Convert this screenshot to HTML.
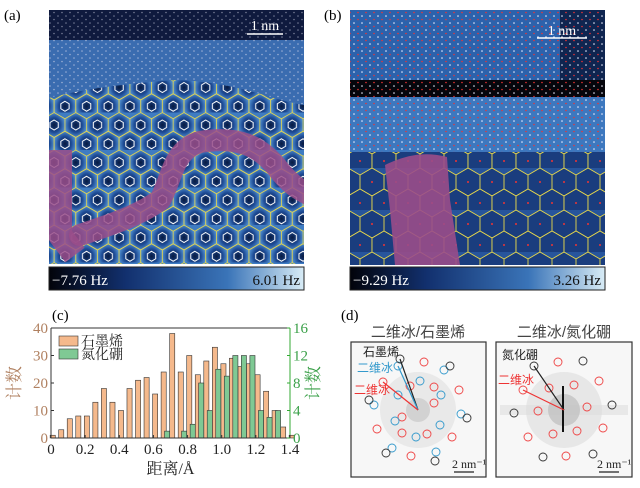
<!DOCTYPE html>
<html><head><meta charset="utf-8"><style>
body{margin:0;background:#fff;font-family:"Liberation Serif","Noto Serif CJK SC",serif}
svg{display:block}
</style></head><body>
<svg width="640" height="488" viewBox="0 0 640 488" xmlns="http://www.w3.org/2000/svg">
<defs>
<linearGradient id="cb" x1="0" x2="1"><stop offset="0" stop-color="#02030a"/><stop offset="0.3" stop-color="#12306e"/><stop offset="0.7" stop-color="#3a74b8"/><stop offset="1" stop-color="#d8ecf6"/></linearGradient>
<radialGradient id="hc"><stop offset="0" stop-color="#081a40"/><stop offset="0.6" stop-color="#1e4c96"/><stop offset="1" stop-color="#4f8ccc"/></radialGradient>
<pattern id="hexA" width="21.65" height="37.5" patternUnits="userSpaceOnUse">
<rect width="21.65" height="37.5" fill="#3f7cc2"/>
<g id="hx"><polygon points="10.83,0 21.65,6.25 21.65,18.75 10.83,25 0,18.75 0,6.25" fill="url(#hc)" stroke="#e8d84a" stroke-width="0.8"/><polygon points="10.83,7.5 15,10 15,15 10.83,17.5 6.7,15 6.7,10" fill="none" stroke="#fff" stroke-width="1"/></g>
<use href="#hx" x="-10.83" y="18.75"/><use href="#hx" x="10.83" y="18.75"/><use href="#hx" y="-37.5"/>
</pattern>
<pattern id="dots" width="8" height="7" patternUnits="userSpaceOnUse"><circle cx="2" cy="2" r="0.8" fill="#dde"/><circle cx="6" cy="5.5" r="0.8" fill="#dde"/></pattern>
<pattern id="dotsR" width="8" height="7" patternUnits="userSpaceOnUse"><circle cx="2" cy="2" r="0.8" fill="#eef"/><circle cx="6" cy="5.5" r="0.8" fill="#e33"/></pattern>
<pattern id="hexB" width="24" height="42" patternUnits="userSpaceOnUse">
<rect width="24" height="42" fill="#27559c"/>
<g id="hy"><polygon points="12,0 24,7 24,21 12,28 0,21 0,7" fill="#1a3d7e" stroke="#e8d84a" stroke-width="0.9"/><circle cx="12" cy="14" r="1" fill="#e33"/></g>
<use href="#hy" x="-12" y="21"/><use href="#hy" x="12" y="21"/><use href="#hy" y="-42"/>
</pattern>
<clipPath id="clipA"><rect x="49" y="10" width="255" height="254"/></clipPath>
</defs>

<!-- panel a -->
<text x="4" y="20" font-size="15">(a)</text>
<g clip-path="url(#clipA)">
<rect x="49" y="10" width="255" height="254" fill="url(#hexA)"/>
<rect x="49" y="10" width="255" height="30" fill="#0f1a3e"/>
<rect x="49" y="10" width="255" height="30" fill="url(#dots)" opacity="0.5"/>
<path d="M49,40 H304 V105 C270,100 240,82 175,80 C120,84 80,90 49,98 Z" fill="#3a6cb0"/>
<path d="M49,40 H304 V105 C270,100 240,82 175,80 C120,84 80,90 49,98 Z" fill="url(#dots)" opacity="0.6"/>
<path d="M60,150 L60,235 L75,255" fill="none" stroke="#9a4d8a" stroke-width="24" stroke-opacity="0.85" stroke-linejoin="round"/>
<path d="M80,235 C110,225 140,215 160,200 C172,180 172,150 200,142 C240,135 260,148 275,165 C290,185 300,190 310,195" fill="none" stroke="#9a4d8a" stroke-width="22" stroke-opacity="0.85" stroke-linejoin="round" stroke-linecap="round"/>
<line x1="247" y1="34" x2="283" y2="34" stroke="#fff" stroke-width="1.5"/>
<text x="265" y="30" font-size="14" fill="#fff" text-anchor="middle">1 nm</text>
</g>
<g>
<rect x="49" y="267" width="255" height="23" fill="url(#cb)" stroke="#222"/>
<text x="52" y="285" font-size="15" fill="#fff">−7.76 Hz</text>
<text x="300" y="285" font-size="15" fill="#111" text-anchor="end">6.01 Hz</text>
</g>

<!-- panel b -->
<text x="324" y="20" font-size="15">(b)</text>
<g>
<rect x="350" y="10" width="255" height="255" fill="url(#hexB)"/>
<rect x="350" y="10" width="255" height="70" fill="#2c62ac"/>
<rect x="560" y="10" width="45" height="70" fill="#0f2550"/>
<rect x="350" y="10" width="255" height="70" fill="url(#dotsR)"/>
<rect x="350" y="80" width="255" height="17" fill="#05060c"/>
<rect x="350" y="80" width="255" height="17" fill="url(#dotsR)"/>
<rect x="350" y="97" width="255" height="55" fill="#3d78bf"/>
<rect x="350" y="97" width="255" height="55" fill="url(#dotsR)"/>
<path d="M385,165 C400,158 420,150 447,157 L450,200 L460,265 L395,265 L390,210 Z" fill="#9a4d8a" opacity="0.9"/>
<line x1="537" y1="38" x2="587" y2="38" stroke="#fff" stroke-width="1.5"/>
<text x="562" y="35" font-size="14" fill="#fff" text-anchor="middle">1 nm</text>
</g>
<g>
<rect x="350" y="267" width="255" height="23" fill="url(#cb)" stroke="#222"/>
<text x="353" y="285" font-size="15" fill="#fff">−9.29 Hz</text>
<text x="601" y="285" font-size="15" fill="#111" text-anchor="end">3.26 Hz</text>
</g>

<!-- panel c -->
<text x="52" y="320" font-size="15">(c)</text>
<g id="chart"></g>

<!-- panel d -->
<text x="341" y="320" font-size="15">(d)</text>
<text x="418" y="337" font-size="15" fill="#444" text-anchor="middle" font-family="Liberation Sans,Noto Sans CJK SC,sans-serif">二维冰/石墨烯</text>
<text x="564" y="337" font-size="15" fill="#444" text-anchor="middle" font-family="Liberation Sans,Noto Sans CJK SC,sans-serif">二维冰/氮化硼</text>
<g>
<rect x="351" y="342" width="135" height="135" fill="#f7f7f7" stroke="#333" stroke-width="1.2"/>
<circle cx="418" cy="410" r="38" fill="#e2e2e2" opacity="0.7"/>
<circle cx="418" cy="410" r="12" fill="#c8c8c8" opacity="0.7"/>
<g fill="none" stroke="#e44" stroke-width="0.9">
<circle cx="402" cy="417" r="4"/><circle cx="434" cy="403" r="4"/><circle cx="434" cy="387" r="4"/><circle cx="402" cy="433" r="4"/><circle cx="410" cy="386" r="4"/><circle cx="427" cy="434" r="4"/>
<circle cx="383" cy="382" r="4"/><circle cx="424" cy="362" r="4"/><circle cx="459" cy="390" r="4"/><circle cx="377" cy="429" r="4"/><circle cx="411" cy="456" r="4"/><circle cx="452" cy="437" r="4"/>
</g>
<g fill="none" stroke="#39c" stroke-width="0.9">
<circle cx="398" cy="395" r="4"/><circle cx="420" cy="381" r="4"/><circle cx="441" cy="395" r="4"/><circle cx="440" cy="425" r="4"/><circle cx="416" cy="437" r="4"/><circle cx="395" cy="421" r="4"/>
<circle cx="398" cy="366" r="4"/><circle cx="444" cy="370" r="4"/><circle cx="461" cy="414" r="4"/><circle cx="436" cy="452" r="4"/><circle cx="392" cy="448" r="4"/><circle cx="374" cy="405" r="4"/>
</g>
<g fill="none" stroke="#333" stroke-width="0.9">
<circle cx="400" cy="359" r="4"/><circle cx="450" cy="366" r="4"/><circle cx="467" cy="418" r="4"/><circle cx="435" cy="461" r="4"/><circle cx="386" cy="453" r="4"/><circle cx="369" cy="400" r="4"/>
</g>
<line x1="418" y1="410" x2="400" y2="359" stroke="#222" stroke-width="1.2"/>
<line x1="418" y1="410" x2="398" y2="366" stroke="#39c" stroke-width="1.2"/>
<line x1="418" y1="410" x2="383" y2="382" stroke="#e33" stroke-width="1.2"/>
<text x="363" y="356" font-size="12" fill="#222" font-family="Liberation Sans,Noto Sans CJK SC,sans-serif">石墨烯</text>
<text x="357" y="372" font-size="12" fill="#39c" font-family="Liberation Sans,Noto Sans CJK SC,sans-serif">二维冰</text>
<text x="354" y="394" font-size="12" fill="#e33" font-family="Liberation Sans,Noto Sans CJK SC,sans-serif">二维冰</text>
<line x1="454" y1="472" x2="474" y2="472" stroke="#222" stroke-width="1.2"/>
<text x="452" y="468" font-size="12" fill="#222">2 nm⁻¹</text>
</g>
<g>
<rect x="496" y="342" width="136" height="135" fill="#f7f7f7" stroke="#333" stroke-width="1.2"/>
<rect x="500" y="405" width="128" height="10" fill="#ddd" opacity="0.6"/>
<circle cx="564" cy="410" r="38" fill="#dcdcdc" opacity="0.6"/>
<circle cx="564" cy="410" r="16" fill="#b8b8b8" opacity="0.6"/>
<line x1="563" y1="386" x2="563" y2="432" stroke="#111" stroke-width="2"/>
<g fill="none" stroke="#e44" stroke-width="0.9">
<circle cx="549" cy="388" r="4"/><circle cx="574" cy="385" r="4"/><circle cx="587" cy="407" r="4"/><circle cx="577" cy="431" r="4"/><circle cx="553" cy="434" r="4"/><circle cx="538" cy="411" r="4"/>
<circle cx="523" cy="390" r="4"/><circle cx="558" cy="362" r="4"/><circle cx="599" cy="381" r="4"/><circle cx="603" cy="428" r="4"/><circle cx="566" cy="456" r="4"/><circle cx="528" cy="437" r="4"/>
</g>
<g fill="none" stroke="#333" stroke-width="0.9">
<circle cx="534" cy="366" r="4"/><circle cx="583" cy="361" r="4"/><circle cx="612" cy="405" r="4"/><circle cx="593" cy="454" r="4"/><circle cx="543" cy="457" r="4"/><circle cx="514" cy="413" r="4"/>
</g>
<line x1="564" y1="410" x2="534" y2="366" stroke="#222" stroke-width="1.2"/>
<line x1="564" y1="410" x2="523" y2="390" stroke="#e33" stroke-width="1.2"/>
<text x="502" y="359" font-size="12" fill="#222" font-family="Liberation Sans,Noto Sans CJK SC,sans-serif">氮化硼</text>
<text x="498" y="384" font-size="12" fill="#e33" font-family="Liberation Sans,Noto Sans CJK SC,sans-serif">二维冰</text>
<line x1="599" y1="472" x2="619" y2="472" stroke="#222" stroke-width="1.2"/>
<text x="597" y="468" font-size="12" fill="#222">2 nm⁻¹</text>
</g>
</svg>
<script>
const grapheneX=[0.01,0.06,0.11,0.16,0.21,0.26,0.31,0.36,0.41,0.46,0.51,0.56,0.61,0.66,0.71,0.76,0.81,0.86,0.91,0.96,1.01,1.06,1.11,1.16,1.21,1.26,1.31,1.36,1.41];
const grapheneCounts=[1,3,7,8,8,13,18,13,10,18,21,22,16,24,38,24,30,23,28,33,27,29,26,27,23,17,10,4,1];
const bnX=[0.68,0.78,0.83,0.88,0.93,0.98,1.03,1.08,1.13,1.18,1.23,1.28,1.33];
const bnCounts=[1,1,2,8,4,10,9,12,12,12,4,3,4];
const xTicks=[0,0.2,0.4,0.6,0.8,1.0,1.2,1.4];
const yLeftTicks=[0,10,20,30,40];
const yRightTicks=[0,4,8,12,16];
const NS="http://www.w3.org/2000/svg";
const g=document.getElementById('chart');
const X0=51,X1=290,Y0=438,Y1=328;
const sx=v=>X0+v/1.4*(X1-X0);
const syL=v=>Y0-v/40*(Y0-Y1);
const syR=v=>Y0-v/16*(Y0-Y1);
const bw=0.03/1.4*(X1-X0);
function mk(t,a){const e=document.createElementNS(NS,t);for(const k in a)e.setAttribute(k,a[k]);g.appendChild(e);return e;}
grapheneCounts.forEach((c,i)=>{const e=mk('rect',{x:sx(grapheneX[i])-bw/2,y:syL(c),width:bw,height:Y0-syL(c),fill:'#f5b98c',stroke:'#333','stroke-width':0.6});

});
bnCounts.forEach((c,i)=>{const e=mk('rect',{x:sx(bnX[i])-bw/2,y:syR(c),width:bw,height:Y0-syR(c),fill:'#7fc994',stroke:'#333','stroke-width':0.6});

});
mk('line',{x1:X0,y1:Y1,x2:X1,y2:Y1,stroke:'#333'});
mk('line',{x1:X0,y1:Y0,x2:X1,y2:Y0,stroke:'#333'});
mk('line',{x1:X0,y1:Y0,x2:X0,y2:Y1,stroke:'#333'});
mk('line',{x1:X1,y1:Y0,x2:X1,y2:Y1,stroke:'#3a3'});
xTicks.forEach(v=>{mk('line',{x1:sx(v),y1:Y0,x2:sx(v),y2:Y0-3,stroke:'#333'});
const t=mk('text',{x:sx(v),y:Y0+16,'font-size':15,'text-anchor':'middle',fill:'#222'});t.textContent=v===0?'0':v.toFixed(1);

});
yLeftTicks.forEach(v=>{mk('line',{x1:X0,y1:syL(v),x2:X0+3,y2:syL(v),stroke:'#333'});
const t=mk('text',{x:X0-3,y:syL(v)+5,'font-size':15,'text-anchor':'end',fill:'#b08060'});t.textContent=v;

});
yRightTicks.forEach(v=>{mk('line',{x1:X1,y1:syR(v),x2:X1-3,y2:syR(v),stroke:'#3a3'});
const t=mk('text',{x:X1+3,y:syR(v)+5,'font-size':15,fill:'#3aa048'});t.textContent=v;

});
let t=mk('text',{x:(X0+X1)/2,y:474,'font-size':16,'text-anchor':'middle',fill:'#222'});t.textContent='距离/Å';


t=mk('text',{x:20,y:383,'font-size':17,'text-anchor':'middle',fill:'#b08060',transform:'rotate(-90 20 383)'});t.textContent='计数';


t=mk('text',{x:319,y:383,'font-size':17,'text-anchor':'middle',fill:'#3aa048',transform:'rotate(-90 319 383)'});t.textContent='计数';


let r=mk('rect',{x:59,y:336,width:19,height:10,fill:'#f5b98c',stroke:'#333','stroke-width':0.6});


t=mk('text',{x:81,y:346,'font-size':14,fill:'#222'});t.textContent='石墨烯';


r=mk('rect',{x:59,y:349,width:19,height:10,fill:'#7fc994',stroke:'#333','stroke-width':0.6});


t=mk('text',{x:81,y:359,'font-size':14,fill:'#222'});t.textContent='氮化硼';


</script>
</body></html>
